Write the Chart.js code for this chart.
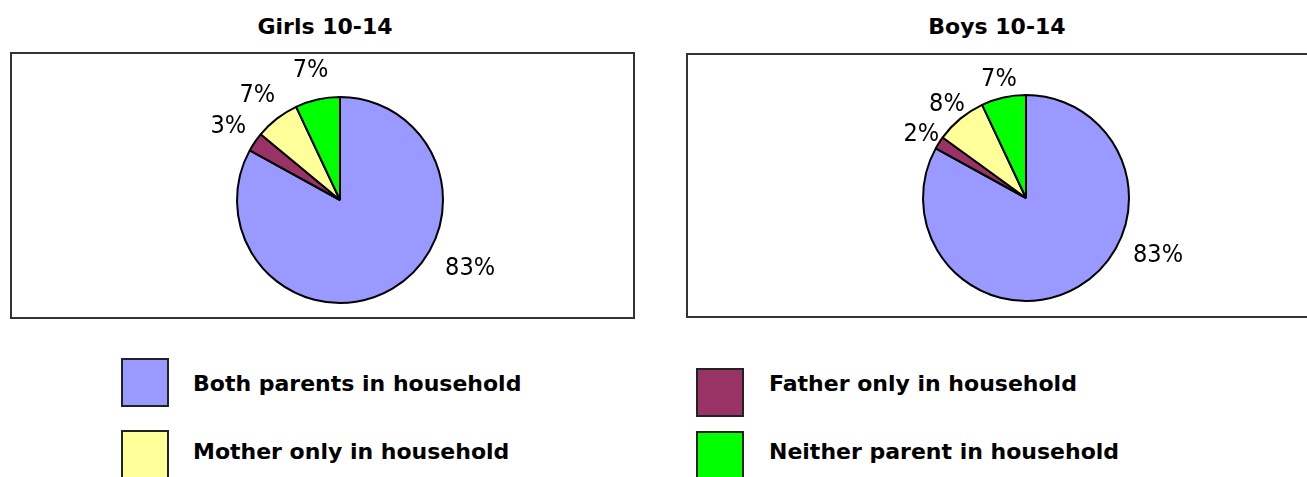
<!DOCTYPE html>
<html>
<head>
<meta charset="utf-8">
<script src="https://cdn.jsdelivr.net/npm/chart.js@4.4.1/dist/chart.umd.min.js"></script>
<style>
  body { margin: 0; width: 1307px; height: 477px; overflow: hidden; position: relative; background: #fff; }
  .box { position: absolute; border: 2px solid #333; box-sizing: border-box; }
  .title { position: absolute; font: bold 22px "DejaVu Sans", sans-serif; line-height: 22px; white-space: nowrap; transform: translateX(-50%); }
  .pie { position: absolute; width: 340px; height: 300px; }
  .swatch { position: absolute; width: 48px; height: 49px; border: 2px solid #222; box-sizing: border-box; }
  .ltext { position: absolute; font: bold 22px "DejaVu Sans", sans-serif; line-height: 22px; white-space: nowrap; }
</style>
</head>
<body>
<div class="box" style="left:10px;top:52px;width:625px;height:267px"></div>
<div class="box" style="left:686px;top:53px;width:700px;height:265px"></div>
<div class="title" id="title-girls" style="left:325px;top:16px"></div>
<div class="title" id="title-boys" style="left:997px;top:16px"></div>
<canvas id="girls-pie" class="pie" style="left:170px;top:50px"></canvas>
<canvas id="boys-pie" class="pie" style="left:856px;top:48px"></canvas>
<div id="legend"></div>

<script>
const categories = ["Both parents in household", "Father only in household", "Mother only in household", "Neither parent in household"];
const girlsValues = [83, 3, 7, 7];
const boysValues = [83, 2, 8, 7];
const sliceColors = ["#9999FF", "#993366", "#FFFF99", "#00FF00"];
const chartTitles = ["Girls 10-14", "Boys 10-14"];

document.querySelector("#title-girls").textContent = chartTitles[0];
document.querySelector("#title-boys").textContent = chartTitles[1];

// percent labels outside the slices, big slice moved like the original
const pctLabels = {
  id: 'pctLabels',
  afterDatasetsDraw(chart, args, opts) {
    const ctx = chart.ctx;
    const meta = chart.getDatasetMeta(0);
    const values = chart.data.datasets[0].data;
    ctx.save();
    ctx.font = opts.size + 'px ' + opts.family;
    ctx.fillStyle = '#000';
    ctx.textAlign = 'center';
    ctx.textBaseline = 'alphabetic';
    meta.data.forEach((arc, i) => {
      const p = arc.getProps(['x', 'y', 'startAngle', 'endAngle', 'outerRadius'], true);
      let ang = (p.startAngle + p.endAngle) / 2;
      let dist = p.outerRadius + opts.gap;
      if (i === 0) {
        ang = (opts.bigAngle - 90) * Math.PI / 180;
        dist = opts.bigDist;
      }
      const x = p.x + Math.cos(ang) * dist;
      const y = p.y + Math.sin(ang) * dist;
      ctx.fillText(values[i] + '%', x, y + opts.size * 0.36);
    });
    ctx.restore();
  }
};

function makePie(id, values, gap, bigAngle, bigDist) {
  return new Chart(document.querySelector(id), {
    type: 'pie',
    data: {
      labels: categories,
      datasets: [{
        data: values,
        backgroundColor: sliceColors,
        borderColor: '#000',
        borderWidth: 2,
        radius: 103
      }]
    },
    options: {
      responsive: false,
      animation: false,
      layout: { padding: 0 },
      plugins: {
        legend: { display: false },
        tooltip: { enabled: false },
        pctLabels: {
          family: "'Liberation Sans Narrow', 'DejaVu Sans Condensed', sans-serif",
          size: 25,
          gap: gap,
          bigAngle: bigAngle,
          bigDist: bigDist
        }
      }
    },
    plugins: [pctLabels]
  });
}

function sizeCanvas(id) {
  const c = document.querySelector(id);
  c.width = 340;
  c.height = 300;
}
sizeCanvas("#girls-pie");
sizeCanvas("#boys-pie");

makePie("#girls-pie", girlsValues, 32, 117, 146);
makePie("#boys-pie", boysValues, 21, 112.6, 143);

// legend, 2x2 like the original
const swatchSpots = [[121, 358], [696, 368], [121, 430], [696, 431]];
const textSpots = [[193, 373], [769, 373], [193, 441], [769, 441]];
const legend = document.querySelector("#legend");
categories.forEach((name, i) => {
  legend.innerHTML += `<div class="swatch" style="left:${swatchSpots[i][0]}px;top:${swatchSpots[i][1]}px;background:${sliceColors[i]}"></div>`;
  legend.innerHTML += `<div class="ltext" style="left:${textSpots[i][0]}px;top:${textSpots[i][1]}px">${name}</div>`;
});
</script>
</body>
</html>
